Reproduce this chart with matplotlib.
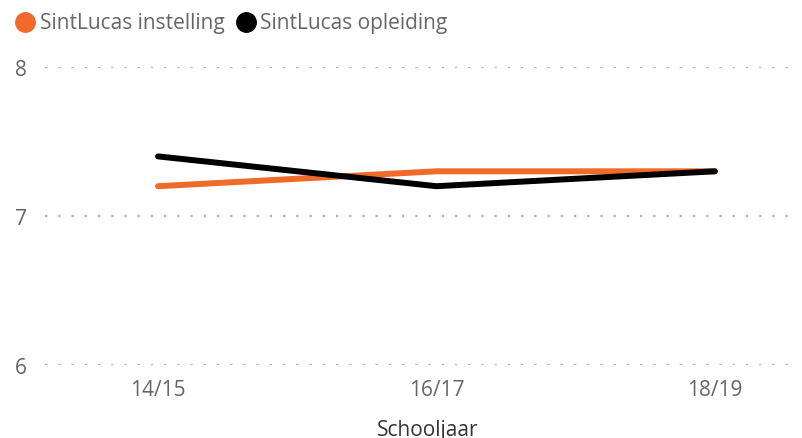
import matplotlib.pyplot as plt
from matplotlib.lines import Line2D

# schooljaren en scores
jaren = ['14/15', '16/17', '18/19']
instelling = [7.2, 7.3, 7.3]
opleiding = [7.4, 7.2, 7.3]
reeksen = ['SintLucas instelling', 'SintLucas opleiding']

oranje = '#F06A2A'
grijs = '#666666'

plt.rcParams['font.family'] = ['Open Sans', 'DejaVu Sans']

W, H = 802, 439
fig = plt.figure(figsize=(W / 100, H / 100), dpi=100)
ax = fig.add_axes([45 / W, 1 - 366 / H, 745 / W, 298 / H])

x = list(range(len(jaren)))
ax.plot(x, instelling, color=oranje, lw=4.3, solid_capstyle='round', zorder=3)
ax.plot(x, opleiding, color='black', lw=4.3, solid_capstyle='round', zorder=4)

ax.set_ylim(6, 8)
ax.set_xlim(-0.406, 2.27)
ax.set_yticks([6, 7, 8])
ax.set_xticks(x)
ax.set_xticklabels(jaren)

# gestippelde hulplijnen
for y in [6, 7, 8]:
    ax.axhline(y, color='#b5b5b5', lw=1.7, linestyle=(0, (1, 4.6)), zorder=1)

for s in ax.spines.values():
    s.set_visible(False)
ax.tick_params(axis='both', length=0, colors=grijs, labelsize=15)
ax.tick_params(axis='y', pad=13)
ax.tick_params(axis='x', pad=10)

ax.set_xlabel('Schooljaar', fontsize=15, color='#333333')
ax.xaxis.set_label_coords((428 - 45) / 745, -0.18)

# legenda bovenaan met bolletjes
for kleur, tekst, cx, tx in [(oranje, reeksen[0], 25, 40), ('black', reeksen[1], 246.5, 260)]:
    fig.add_artist(Line2D([cx / W], [1 - 23 / H], marker='o', color=kleur,
                          markersize=14, lw=0, transform=fig.transFigure))
    fig.text(tx / W, 1 - 23 / H, tekst, fontsize=15, color=grijs, va='center', ha='left')

fig.savefig('out.png', dpi=100)
